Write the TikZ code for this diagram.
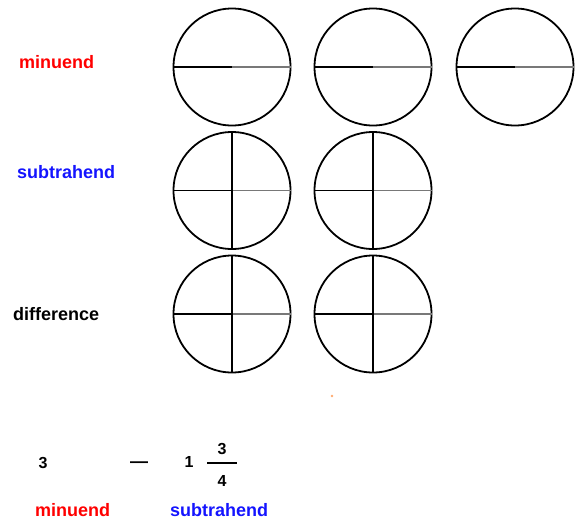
\documentclass[tikz,border=0pt]{standalone}
\usepackage{fontspec}
\setmainfont{Liberation Sans}
\definecolor{lblred}{RGB}{255,0,0}
\definecolor{lblblue}{RGB}{20,20,255}
\definecolor{halfgray}{RGB}{120,120,120}
\definecolor{dotorange}{RGB}{255,170,110}
\begin{document}
\begin{tikzpicture}[x=1pt,y=-1pt,
  pie/.style={circle,draw=black,line width=1.8pt,minimum size=117pt,inner sep=0pt,outer sep=0pt},
  dark/.style={line width=1.8pt,black},
  light/.style={line width=1.5pt,halfgray},
  lbl/.style={font=\fontsize{18}{20}\selectfont\bfseries,inner sep=0pt,anchor=base west},
  num/.style={font=\fontsize{16}{18}\selectfont\bfseries,inner sep=0pt}]
\useasboundingbox (0,0) rectangle (585,520);
% row labels
\node[lbl,text=lblred] (lm) at (19,68) {minuend};
\node[lbl,text=lblblue] (ls) at (17,178) {subtrahend};
\node[lbl,text=black] (ld) at (13,320) {difference};
% row 1: halves
\node[pie] (a1) at (232,67) {};
\node[pie] (a2) at (373,67) {};
\node[pie] (a3) at (515,67) {};
\foreach \c in {a1,a2,a3}{
  \draw[dark] (\c.west) -- (\c.center);
  \draw[light] (\c.center) -- (\c.east);
}
% row 2: quarters
\node[pie] (b1) at (232,190.5) {};
\node[pie] (b2) at (373,190.5) {};
% row 3: quarters
\node[pie] (d1) at (232,314) {};
\node[pie] (d2) at (373,314) {};
\foreach \c in {b1,b2,d1,d2}{
  \draw[dark] (\c.west) -- (\c.center);
  \draw[light] (\c.center) -- (\c.east);
  \draw[dark] (\c.north) -- (\c.south);
}
% stray dot
\fill[dotorange] (332,396) circle (1.3);
% bottom expression
\node[num] (n3) at (43,463) {3};
\node[font=\fontsize{18}{20}\selectfont\bfseries,inner sep=0pt] (mn) at (139,465) {—};
\node[num] (n1) at (189,462) {1};
\node[num] (fn) at (222,449) {3};
\node[num] (fd) at (222,481) {4};
\coordinate (fbl) at (207,463);
\coordinate (fbr) at (237,463);
\draw[line width=2pt] (fbl) -- (fbr);
\node[lbl,text=lblred] (bm) at (35,516) {minuend};
\node[lbl,text=lblblue] (bs) at (170,516) {subtrahend};
\end{tikzpicture}
\end{document}
